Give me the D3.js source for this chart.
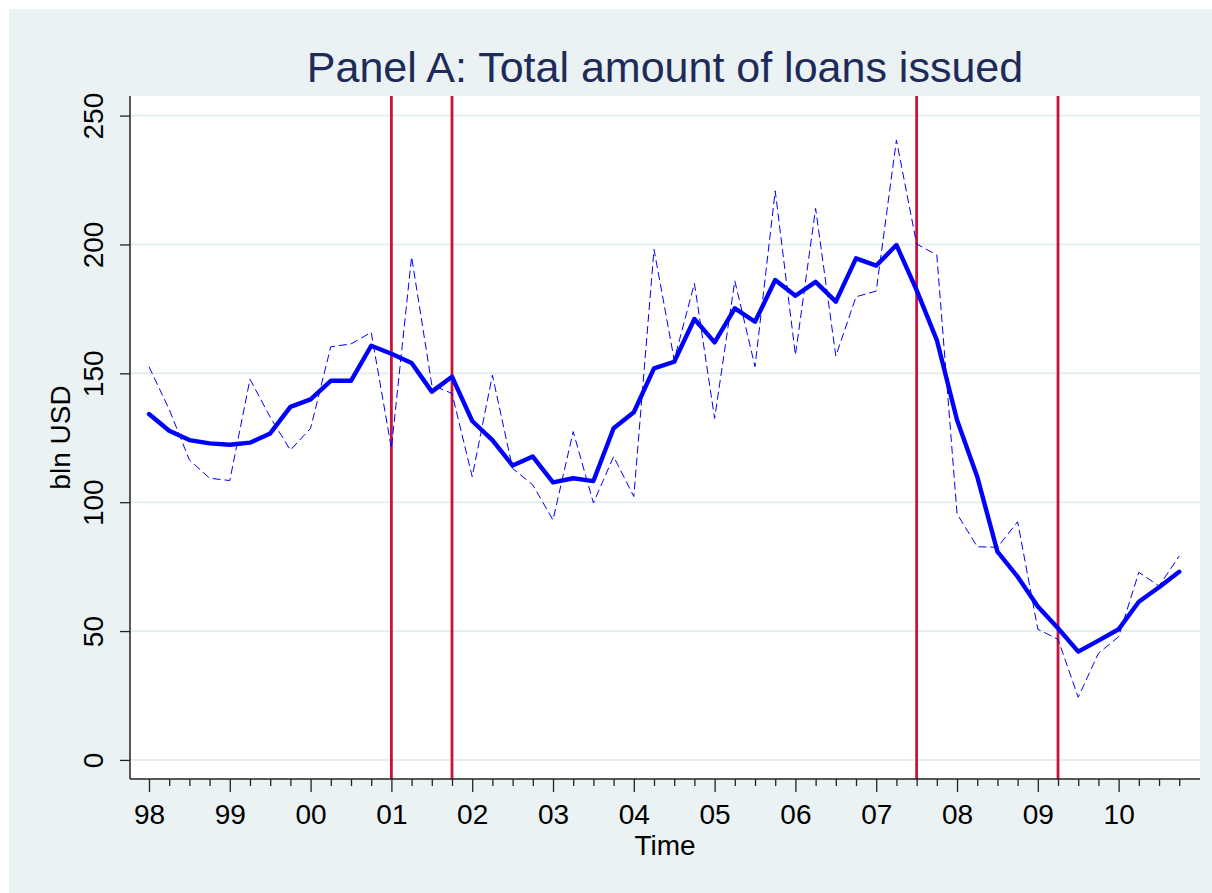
<!DOCTYPE html>
<html>
<head>
<meta charset="utf-8">
<script src="https://cdn.jsdelivr.net/npm/d3@7"></script>
<style>
  html, body { margin: 0; padding: 0; background: #ffffff; }
  svg { display: block; }
  text { font-family: "Liberation Sans", Arial, sans-serif; }
</style>
</head>
<body>
<svg id="chart" width="1212" height="893"></svg>
<script>
// ---- data ----
const years = [1998, 1999, 2000, 2001, 2002, 2003, 2004, 2005, 2006, 2007, 2008, 2009, 2010];
const yearLabels = ["98", "99", "00", "01", "02", "03", "04", "05", "06", "07", "08", "09", "10"];
const quarterNames = ["Q1", "Q2", "Q3", "Q4"];
// quarterly periods 1998Q1 .. 2010Q4
const periods = years.flatMap(y => quarterNames.map(q => y + q));

// thin dashed: quarterly loans issued (bln USD)
const loansQuarterly = [
  152.6, 136.0, 116.4, 109.3, 108.4, 147.7, 133.0, 120.2, 128.7, 160.3, 161.4, 165.9, 120.9,
  195.2, 145.5, 142.2, 109.9, 149.3, 113.1, 106.7, 93.1, 127.4, 99.7, 117.7, 102.2,
  198.1, 155.2, 184.9, 132.5, 185.9, 152.6, 220.8, 157.1, 214.0, 156.7, 179.7, 181.9, 240.5, 200.2, 195.9,
  95.5, 82.7, 82.5, 92.4, 50.7, 46.8, 24.3, 41.4, 47.8, 72.8, 67.5, 79.1
];
// thick solid: smoothed series (bln USD)
const loansSmoothed = [
  134.2, 127.7, 124.1, 122.8, 122.3, 123.1, 126.7, 137.0, 139.9, 147.1, 147.1, 160.7, 157.6,
  154.0, 142.9, 148.7, 131.5, 124.1, 114.2, 117.7, 107.7, 109.3, 108.2, 128.7, 134.9,
  151.9, 154.5, 171.1, 162.0, 175.2, 170.0, 186.2, 180.1, 185.5, 177.8, 194.6, 191.8, 199.8, 182.3, 162.9,
  131.9, 109.9, 80.8, 71.1, 59.5, 51.1, 42.0, 46.3, 50.7, 61.4, 67.0, 73.0
];
// vertical event lines (periods)
const eventPeriods = ["2001Q1", "2001Q4", "2007Q3", "2009Q2"];
const yTicks = [0, 50, 100, 150, 200, 250];

const titleText = "Panel A: Total amount of loans issued";
const xTitle = "Time";
const yTitle = "bln USD";

// ---- helpers ----
const periodToTime = p => +p.slice(0, 4) + (+p.slice(5) - 1) / 4;
const data = periods.map((p, i) => ({ t: periodToTime(p), raw: loansQuarterly[i], smooth: loansSmoothed[i] }));

// ---- layout ----
const W = 1212, H = 893;
const plot = { left: 130, right: 1200, top: 96, bottom: 779 };

const svg = d3.select("#chart");

// outer background
svg.append("rect").attr("x", 9).attr("y", 9).attr("width", W - 9).attr("height", H - 9).attr("fill", "#eaf2f3");
// plot region
svg.append("rect").attr("x", plot.left).attr("y", plot.top)
  .attr("width", plot.right - plot.left).attr("height", plot.bottom - plot.top).attr("fill", "#ffffff");

const x = d3.scaleLinear().domain([1997.765, 2011.007]).range([plot.left, plot.right]);
const y = d3.scaleLinear().domain([-7.4, 257.6]).range([plot.bottom, plot.top]);

// gridlines
svg.append("g").selectAll("line").data(yTicks).join("line")
  .attr("x1", plot.left).attr("x2", plot.right)
  .attr("y1", d => y(d)).attr("y2", d => y(d))
  .attr("stroke", "#e6eff0").attr("stroke-width", 2);

// event lines
svg.append("g").selectAll("line").data(eventPeriods).join("line")
  .attr("x1", d => x(periodToTime(d))).attr("x2", d => x(periodToTime(d)))
  .attr("y1", plot.top).attr("y2", plot.bottom)
  .attr("stroke", "#c8143c").attr("stroke-width", 2.8);

// series
const lineRaw = d3.line().x(d => x(d.t)).y(d => y(d.raw));
const lineSmooth = d3.line().x(d => x(d.t)).y(d => y(d.smooth));

svg.append("path").datum(data).attr("d", lineRaw)
  .attr("fill", "none").attr("stroke", "#0000ff").attr("stroke-width", 1)
  .attr("stroke-dasharray", "8,4");
svg.append("path").datum(data).attr("d", lineSmooth)
  .attr("fill", "none").attr("stroke", "#0000ff").attr("stroke-width", 4.4)
  .attr("stroke-linejoin", "round").attr("stroke-linecap", "round");

// x axis: major (years) and minor (quarters)
const majorT = years.map(v => v);
const minorT = data.map(d => d.t).filter(t => !Number.isInteger(t));

const xMinor = svg.append("g").attr("transform", `translate(0,${plot.bottom})`)
  .call(d3.axisBottom(x).tickValues(minorT).tickSize(7).tickFormat(""));
xMinor.select(".domain").remove();

const xMajor = svg.append("g").attr("transform", `translate(0,${plot.bottom})`)
  .call(d3.axisBottom(x).tickValues(majorT).tickSize(13).tickPadding(12)
    .tickFormat((d, i) => yearLabels[i]));
xMajor.select(".domain").remove();
xMajor.selectAll("text").attr("font-size", 28).attr("fill", "#000")
  .attr("font-family", "Liberation Sans, Arial, sans-serif");

[xMinor, xMajor].forEach(g => g.selectAll(".tick line").attr("stroke", "#222").attr("stroke-width", 1.3));

// x axis line
svg.append("line").attr("x1", plot.left).attr("x2", plot.right)
  .attr("y1", plot.bottom).attr("y2", plot.bottom).attr("stroke", "#222").attr("stroke-width", 1.5);

// y axis
const yAxis = svg.append("g").attr("transform", `translate(${plot.left},0)`)
  .call(d3.axisLeft(y).tickValues(yTicks).tickSize(10).tickFormat(d3.format("d")));
yAxis.select(".domain").remove();
yAxis.selectAll(".tick line").attr("stroke", "#222").attr("stroke-width", 1.3);
yAxis.selectAll("text")
  .attr("x", 0).attr("dy", 0)
  .attr("text-anchor", "middle")
  .attr("transform", "translate(-27,0) rotate(-90)")
  .attr("font-size", 28).attr("fill", "#000")
  .attr("font-family", "Liberation Sans, Arial, sans-serif");
svg.append("line").attr("x1", plot.left).attr("x2", plot.left)
  .attr("y1", plot.top).attr("y2", plot.bottom).attr("stroke", "#222").attr("stroke-width", 1.5);

// titles
svg.append("text").attr("x", (plot.left + plot.right) / 2).attr("y", 82)
  .attr("text-anchor", "middle").attr("font-size", 43).attr("fill", "#1e2b58")
  .text(titleText);

svg.append("text").attr("x", (plot.left + plot.right) / 2).attr("y", 855)
  .attr("text-anchor", "middle").attr("font-size", 28).attr("fill", "#000")
  .text(xTitle);

svg.append("text").attr("transform", `translate(70,${(plot.top + plot.bottom) / 2}) rotate(-90)`)
  .attr("text-anchor", "middle").attr("font-size", 28).attr("fill", "#000")
  .text(yTitle);
</script>
</body>
</html>
